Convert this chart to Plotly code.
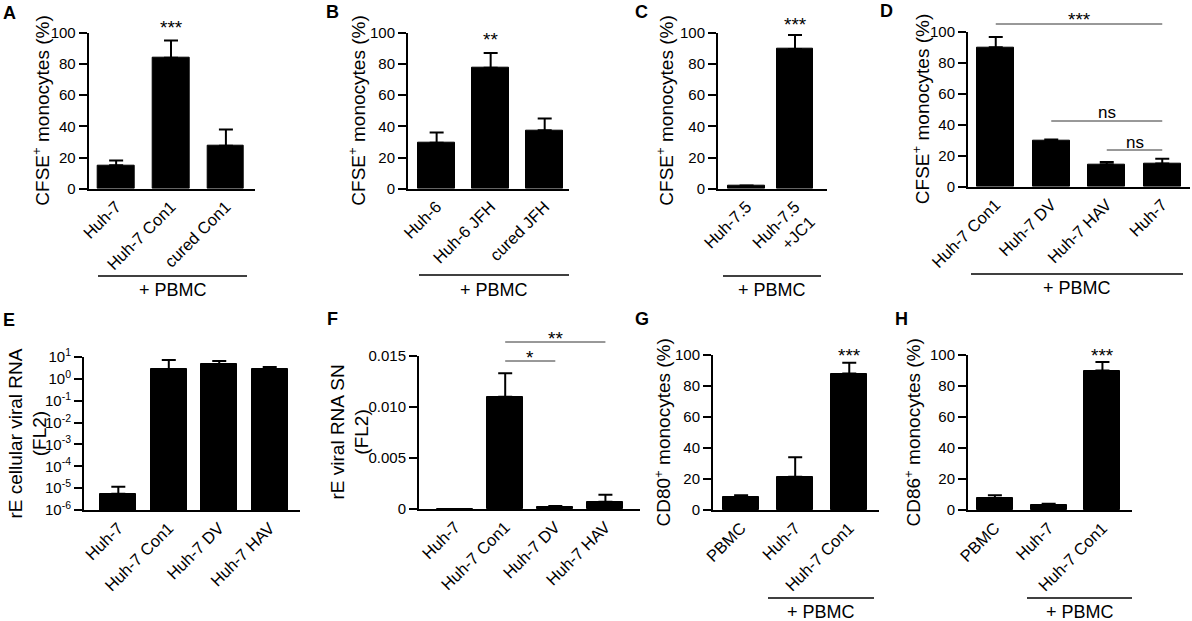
import plotly.graph_objects as go

W, H = 1192, 621
FONT = "Liberation Sans, Arial, Helvetica, sans-serif"

# ---- data ----
a_labels = ["Huh-7", "Huh-7 Con1", "cured Con1"]
a_means = [15, 84, 27.5]
a_err = [3, 11, 10.5]

b_labels = ["Huh-6", "Huh-6 JFH", "cured JFH"]
b_means = [29.5, 77.5, 37.5]
b_err = [6.5, 9.5, 7.5]

c_labels = ["Huh-7.5", "Huh-7.5<br>+JC1"]
c_means = [1.8, 89.5]
c_err = [0.2, 9]

d_labels = ["Huh-7 Con1", "Huh-7 DV", "Huh-7 HAV", "Huh-7"]
d_means = [90, 30, 14.5, 15]
d_err = [6.5, 0.5, 1.5, 3]

e_labels = ["Huh-7", "Huh-7 Con1", "Huh-7 DV", "Huh-7 HAV"]
e_means = [5.5e-6, 2.8, 4.8, 2.8]
e_err = [6e-6, 4.4, 1.8, 0.7]

f_labels = ["Huh-7", "Huh-7 Con1", "Huh-7 DV", "Huh-7 HAV"]
f_means = [0, 0.011, 0.0002, 0.0007]
f_err = [0, 0.0023, 0.0001, 0.0007]

g_labels = ["PBMC", "Huh-7", "Huh-7 Con1"]
g_means = [8.5, 21.5, 88]
g_err = [1, 12.5, 7]

h_labels = ["PBMC", "Huh-7", "Huh-7 Con1"]
h_means = [7.5, 3, 90]
h_err = [2, 1, 5.5]

pct_ticks = [0, 20, 40, 60, 80, 100]
log_ticks = [1e-6, 1e-5, 1e-4, 1e-3, 1e-2, 1e-1, 1, 10]
log_ticktext = ["10<sup>-6</sup>", "10<sup>-5</sup>", "10<sup>-4</sup>", "10<sup>-3</sup>",
                "10<sup>-2</sup>", "10<sup>-1</sup>", "10<sup>0</sup>", "10<sup>1</sup>"]
f_ticks = [0, 0.005, 0.010, 0.015]
f_ticktext = ["0", "0.005", "0.010", "0.015"]

CFSE = "CFSE<sup>+</sup> monocytes (%)"

# ---- panel geometry (pixels) ----
panels = [
    dict(tag="A", labels=a_labels, means=a_means, err=a_err, xpx=(88.7, 255), ypx=(32.7, 188.7),
         xr=(-0.5, 2.53), bw=0.665, title=CFSE, tx=41, letter=(9, 13)),
    dict(tag="B", labels=b_labels, means=b_means, err=b_err, xpx=(408, 569), ypx=(32.7, 188.7),
         xr=(-0.53, 2.45), bw=0.685, title=CFSE, tx=357, letter=(332, 12)),
    dict(tag="C", labels=c_labels, means=c_means, err=c_err, xpx=(718, 827), ypx=(32.7, 188.7),
         xr=(-0.59, 1.66), bw=0.76, title=CFSE, tx=665, letter=(641, 12)),
    dict(tag="D", labels=d_labels, means=d_means, err=d_err, xpx=(968, 1190), ypx=(31.7, 186.7),
         xr=(-0.5, 3.5), bw=0.66, title=CFSE, tx=921, letter=(886, 11)),
    dict(tag="E", labels=e_labels, means=e_means, err=e_err, xpx=(84, 300), ypx=(357, 510),
         xr=(-0.68, 3.6), bw=0.72, title="rE cellular viral RNA<br>(FL2)", tx=27, letter=(9, 320),
         log=True),
    dict(tag="F", labels=f_labels, means=f_means, err=f_err, xpx=(419, 640), ypx=(356, 509),
         xr=(-0.72, 3.69), bw=0.72, title="rE viral RNA SN<br>(FL2)", tx=349, letter=(332, 319)),
    dict(tag="G", labels=g_labels, means=g_means, err=g_err, xpx=(713, 879), ypx=(355, 510),
         xr=(-0.52, 2.55), bw=0.67, title="CD80<sup>+</sup> monocytes (%)", tx=662, letter=(642, 319)),
    dict(tag="H", labels=h_labels, means=h_means, err=h_err, xpx=(968, 1132), ypx=(355, 510),
         xr=(-0.5, 2.55), bw=0.67, title="CD86<sup>+</sup> monocytes (%)", tx=912, letter=(901, 319)),
]


def px(x):
    return x / W


def py(y):
    return 1 - y / H


def cat_px(p, idx):
    (x0, x1), (r0, r1) = p["xpx"], p["xr"]
    return x0 + (idx - r0) / (r1 - r0) * (x1 - x0)


fig = go.Figure()
annotations = []
shapes = []

for i, p in enumerate(panels):
    n = i + 1
    xa, ya = ("x%d" % n if n > 1 else "x"), ("y%d" % n if n > 1 else "y")
    fig.add_trace(go.Bar(
        x=p["labels"], y=p["means"], width=p["bw"],
        marker=dict(color="black", line=dict(color="black", width=1)),
        error_y=dict(type="data", array=p["err"], arrayminus=[0] * len(p["err"]),
                     symmetric=False, color="black", thickness=2, width=7),
        xaxis=xa, yaxis=ya, hoverinfo="x+y",
    ))
    x0, x1 = p["xpx"]
    y0, y1 = p["ypx"]
    xaxis = dict(domain=[px(x0), px(x1)], anchor=ya, type="category", range=list(p["xr"]),
                 showline=True, linewidth=2, linecolor="black", ticks="", tickangle=-45,
                 tickfont=dict(size=16.5, color="black"), showgrid=False, zeroline=False,
                 automargin=False)
    yaxis = dict(domain=[py(y1), py(y0)], anchor=xa, showline=True, linewidth=2, linecolor="black",
                 ticks="outside", ticklen=8, tickwidth=2, tickcolor="black",
                 tickfont=dict(size=15, color="black"), showgrid=False, zeroline=False,
                 automargin=False)
    if p.get("log"):
        yaxis.update(type="log", range=[-6, 1], tickvals=log_ticks, ticktext=log_ticktext)
    elif p["tag"] == "F":
        yaxis.update(range=[0, 0.015], tickvals=f_ticks, ticktext=f_ticktext)
    else:
        yaxis.update(range=[0, 100], tickvals=pct_ticks)
    fig.layout["xaxis%d" % n if n > 1 else "xaxis"] = xaxis
    fig.layout["yaxis%d" % n if n > 1 else "yaxis"] = yaxis

    # y title
    annotations.append(dict(text=p["title"], x=px(p["tx"]), y=py((y0 + y1) / 2), textangle=-90,
                            showarrow=False, xref="paper", yref="paper", xanchor="center",
                            yanchor="middle", font=dict(size=19, color="black")))
    # panel letter
    lx, ly = p["letter"]
    annotations.append(dict(text="<b>%s</b>" % p["tag"], x=px(lx), y=py(ly), showarrow=False,
                            xref="paper", yref="paper", xanchor="center", yanchor="middle",
                            font=dict(size=18, color="black")))

P = {p["tag"]: p for p in panels}


def star(tag, idx, ytxt, text, size=19):
    annotations.append(dict(text=text, x=px(cat_px(P[tag], idx)), y=py(ytxt), showarrow=False,
                            xref="paper", yref="paper", xanchor="center", yanchor="middle",
                            font=dict(size=size, color="black")))


def bracket(tag, i0, i1, yline, ytxt, text, size=19):
    xa, xb = cat_px(P[tag], i0), cat_px(P[tag], i1)
    shapes.append(dict(type="line", xref="paper", yref="paper", x0=px(xa), x1=px(xb),
                       y0=py(yline), y1=py(yline), line=dict(color="#333333", width=1)))
    star(tag, (i0 + i1) / 2, ytxt, text, size)


def pbmc(xa, xb, yline, ytxt):
    shapes.append(dict(type="line", xref="paper", yref="paper", x0=px(xa), x1=px(xb),
                       y0=py(yline), y1=py(yline), line=dict(color="black", width=1.5)))
    annotations.append(dict(text="+ PBMC", x=px((xa + xb) / 2), y=py(ytxt), showarrow=False,
                            xref="paper", yref="paper", xanchor="center", yanchor="middle",
                            font=dict(size=18, color="black")))


star("A", 1, 28, "***")
star("B", 1, 39, "**")
star("C", 1, 24.5, "***")
bracket("D", 0, 3, 24, 19, "***")
bracket("D", 1, 3, 121, 112, "ns", 17)
bracket("D", 2, 3, 150, 142, "ns", 17)
bracket("F", 1, 2, 361, 357.5, "*")
bracket("F", 1, 3, 342, 338, "**")
star("G", 2, 355, "***")
star("H", 2, 355, "***")

pbmc(98, 247, 276, 290)
pbmc(419, 569, 275, 290)
pbmc(723, 821, 276, 290)
pbmc(971, 1183, 274, 287.5)
pbmc(768, 874, 598, 612)
pbmc(1027, 1132, 598, 612)

fig.update_layout(
    width=W, height=H, margin=dict(l=0, r=0, t=0, b=0),
    paper_bgcolor="white", plot_bgcolor="white", showlegend=False,
    font=dict(family=FONT, color="black"),
    annotations=annotations, shapes=shapes, bargap=0,
)

fig.write_html("out.html", config={"displayModeBar": False},
               post_script="document.body.style.margin='0';")
